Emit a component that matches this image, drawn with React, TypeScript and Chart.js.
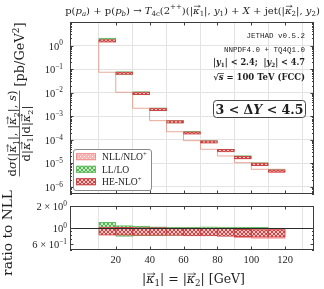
import React, { useEffect, useRef } from "react";
import { Chart, registerables } from "chart.js";

Chart.register(...registerables);

// ---------------- data ----------------
const binLow = [10, 20, 30, 40, 50, 60, 70, 80, 90, 100, 110];
const binHigh = [20, 30, 40, 50, 60, 70, 80, 90, 100, 110, 120];
// NLL/NLO+ central cross section [pb/GeV^2]
const nllCentral = [1.73, 0.0736, 0.0104, 2.18e-3, 6.5e-4, 2.2e-4, 9.2e-5, 3.95e-5, 2.06e-5, 1.07e-5, 5.6e-6];
// uncertainty bands, as ratio to NLL central
const nllRatioLo = [0.8, 0.8, 0.8, 0.8, 0.8, 0.79, 0.79, 0.78, 0.73, 0.72, 0.72];
const nllRatioHi = [1.0, 1.0, 1.0, 1.0, 1.0, 1.0, 1.0, 1.0, 0.98, 0.98, 0.97];
const llRatioLo = [0.82, 0.77, 0.78, 0.78, 0.79, 0.8, 0.81, 0.81, 0.81, 0.81, 0.82];
const llRatioHi = [1.2, 1.08, 1.06, 1.04, 1.03, 1.03, 1.04, 1.03, 1.03, 1.02, 1.0];
const heRatioLo = [0.8, 0.8, 0.79, 0.79, 0.79, 0.78, 0.78, 0.77, 0.76, 0.75, 0.75];
const heRatioHi = [1.03, 1.02, 1.01, 1.01, 1.0, 1.0, 0.99, 0.99, 0.96, 0.95, 0.95];

const xTicks = [20, 40, 60, 80, 100, 120];
const mainYExps = [-6, -5, -4, -3, -2, -1, 0];
const ratioYTicks = [0.6, 1, 2];
const ratioYMant = ["6 × ", "", "2 × "];
const ratioYExp = ["−1", "0", "0"];
const seriesLabels = ["NLL/NLO", "LL/LO", "HE-NLO"];
const seriesSup = ["+", "", "+"];

// ---------------- helpers ----------------
const FAM = '"DejaVu Serif", "Liberation Serif", serif';
const TICKFAM = '"Liberation Serif", "DejaVu Serif", serif';
const MONO = '"Liberation Mono", "DejaVu Sans Mono", monospace';
const TXT = "#1e1e1e";

type Seg = { t: string; k?: "sub" | "sup"; it?: boolean; b?: boolean; vec?: boolean; bar?: boolean };

function segFont(s: Seg, size: number, bold: boolean, fam: string) {
  const sz = s.k ? size * 0.7 : size;
  return `${s.it ? "italic " : ""}${s.b || bold ? "bold " : ""}${sz}px ${fam}`;
}
function richWidth(ctx: CanvasRenderingContext2D, segs: Seg[], size: number, bold = false, fam = FAM) {
  let w = 0;
  for (const s of segs) {
    ctx.font = segFont(s, size, bold, fam);
    w += ctx.measureText(s.t).width;
  }
  return w;
}
function fitSize(ctx: CanvasRenderingContext2D, segs: Seg[], target: number, bold = false, fam = FAM) {
  return (10 * target) / richWidth(ctx, segs, 10, bold, fam);
}
function drawRich(
  ctx: CanvasRenderingContext2D,
  segs: Seg[],
  x: number,
  y: number,
  size: number,
  align: "left" | "center" | "right",
  bold = false,
  fam = FAM,
  color = TXT
) {
  const w = richWidth(ctx, segs, size, bold, fam);
  let cx = align === "left" ? x : align === "center" ? x - w / 2 : x - w;
  ctx.textAlign = "left";
  ctx.textBaseline = "alphabetic";
  ctx.fillStyle = color;
  ctx.strokeStyle = color;
  for (const s of segs) {
    ctx.font = segFont(s, size, bold, fam);
    const dy = s.k === "sub" ? size * 0.22 : s.k === "sup" ? -size * 0.4 : 0;
    ctx.fillText(s.t, cx, y + dy);
    const sw = ctx.measureText(s.t).width;
    if (s.vec) {
      const ay = y - size * 0.72;
      ctx.lineWidth = 0.6;
      ctx.beginPath();
      ctx.moveTo(cx + 0.8, ay);
      ctx.lineTo(cx + sw + 0.6, ay);
      ctx.moveTo(cx + sw - size * 0.12, ay - size * 0.1);
      ctx.lineTo(cx + sw + 0.6, ay);
      ctx.lineTo(cx + sw - size * 0.12, ay + size * 0.1);
      ctx.stroke();
    }
    if (s.bar) {
      const ay = y - size * 0.7;
      ctx.lineWidth = 0.7;
      ctx.beginPath();
      ctx.moveTo(cx - 0.5, ay);
      ctx.lineTo(cx + sw + 0.5, ay);
      ctx.stroke();
    }
    cx += sw;
  }
  return w;
}

function mkPattern(bg: string, fg: string, cells: [number, number][], size: number) {
  const c = document.createElement("canvas");
  c.width = size;
  c.height = size;
  const g = c.getContext("2d")!;
  g.fillStyle = bg;
  g.fillRect(0, 0, size, size);
  g.fillStyle = fg;
  cells.forEach(([a, b]) => g.fillRect(a, b, 1, 1));
  return g.createPattern(c, "repeat")!;
}
const X4: [number, number][] = [
  [0, 0], [1, 1], [2, 2], [3, 3], [3, 0], [2, 1], [1, 2], [0, 3],
];

function drawFrame(chart: any, yMajor: number[], yMinor: number[]) {
  const { ctx, chartArea } = chart;
  const { left, right, top, bottom } = chartArea;
  const xs = chart.scales.x;
  const ys = chart.scales.y;
  ctx.save();
  ctx.strokeStyle = "#3c3c3c";
  ctx.lineWidth = 1;
  ctx.strokeRect(Math.round(left) + 0.5, Math.round(top) + 0.5, Math.round(right - left) - 1, Math.round(bottom - top) - 1);
  ctx.beginPath();
  for (const v of xTicks) {
    const px = Math.round(xs.getPixelForValue(v)) + 0.5;
    ctx.moveTo(px, top);
    ctx.lineTo(px, top + 3.5);
    ctx.moveTo(px, bottom);
    ctx.lineTo(px, bottom - 3.5);
  }
  for (const v of yMajor) {
    const py = Math.round(ys.getPixelForValue(v)) + 0.5;
    ctx.moveTo(left, py);
    ctx.lineTo(left + 3.5, py);
    ctx.moveTo(right, py);
    ctx.lineTo(right - 3.5, py);
  }
  for (const v of yMinor) {
    const py = Math.round(ys.getPixelForValue(v)) + 0.5;
    ctx.moveTo(left, py);
    ctx.lineTo(left + 2, py);
    ctx.moveTo(right, py);
    ctx.lineTo(right - 2, py);
  }
  ctx.stroke();
  ctx.restore();
}

export default function App() {
  const mainRef = useRef<HTMLCanvasElement>(null);
  const ratioRef = useRef<HTMLCanvasElement>(null);

  useEffect(() => {
    const pNLL = mkPattern("#f7b6b6", "#fdeeee", [[0, 0], [2, 2]], 4);
    const pLL = mkPattern("#c6eabf", "#56b356", X4, 4);
    const pHE = mkPattern("#f6c6c6", "#cf4444", X4, 4);
    const patterns = [pNLL, pLL, pHE];
    const borders = ["#f29090", "#66bd66", "#c94444"];

    const band = (central: number[], lo: number[], hi: number[]) =>
      binLow.map((b, i) => ({ x: (b + binHigh[i]) / 2, y: [central[i] * lo[i], central[i] * hi[i]] }));
    const ones = binLow.map(() => 1);

    const barDs = (data: any[], idx: number, order: number) => ({
      type: "bar" as const,
      data,
      backgroundColor: patterns[idx],
      borderColor: borders[idx],
      borderWidth: 1,
      borderSkipped: false,
      grouped: false,
      barPercentage: 1,
      categoryPercentage: 1,
      order,
    });

    const stepData = [
      ...binLow.map((b, i) => ({ x: b, y: nllCentral[i] })),
      { x: binHigh[binHigh.length - 1], y: nllCentral[nllCentral.length - 1] },
    ];

    const mainMinor: number[] = [];
    for (let e = -7; e <= 0; e++) for (let m = 2; m <= 9; m++) {
      const v = m * Math.pow(10, e);
      if (v >= 5e-7 && v <= 10) mainMinor.push(v);
    }

    const mainPlugin = {
      id: "mainDeco",
      afterDraw(chart: any) {
        const { ctx } = chart;
        const ys = chart.scales.y;
        drawFrame(chart, mainYExps.map((e) => Math.pow(10, e)), mainMinor);
        ctx.save();
        // y tick labels
        for (const e of mainYExps) {
          const py = ys.getPixelForValue(Math.pow(10, e));
          drawRich(ctx, [{ t: "10" }, { t: e === 0 ? "0" : "−" + -e, k: "sup" }], 63, py + 4, 10.5, "right", false, TICKFAM);
        }
        // title
        const title: Seg[] = [
          { t: "p(" }, { t: "p", it: true }, { t: "a", k: "sub", it: true }, { t: ") + p(" }, { t: "p", it: true },
          { t: "b", k: "sub", it: true }, { t: ") → " }, { t: "T", it: true }, { t: "4c", k: "sub" }, { t: "(2" },
          { t: "++", k: "sup" }, { t: ")(|" }, { t: "κ", it: true, vec: true }, { t: "1", k: "sub" }, { t: "|, " },
          { t: "y", it: true }, { t: "1", k: "sub" }, { t: ") + " }, { t: "X", it: true }, { t: " + jet(|" },
          { t: "κ", it: true, vec: true }, { t: "2", k: "sub" }, { t: "|, " }, { t: "y", it: true }, { t: "2", k: "sub" },
          { t: ")" },
        ];
        drawRich(ctx, title, 192.5, 13.5, fitSize(ctx, title, 255), "center");
        // annotations
        ctx.font = `7.5px ${MONO}`;
        ctx.fillStyle = TXT;
        ctx.textAlign = "right";
        ctx.textBaseline = "alphabetic";
        ctx.fillText("JETHAD v0.5.2", 305, 38);
        ctx.fillText("NNPDF4.0 + TQ4Q1.0", 305, 51.5);
        const rap: Seg[] = [
          { t: "|" }, { t: "y", it: true }, { t: "1", k: "sub" }, { t: "| < 2.4;  |" }, { t: "y", it: true },
          { t: "2", k: "sub" }, { t: "| < 4.7" },
        ];
        drawRich(ctx, rap, 305, 65, fitSize(ctx, rap, 92, true), "right", true);
        const rs: Seg[] = [{ t: "√" }, { t: "s", it: true, bar: true }, { t: " = 100 TeV (FCC)" }];
        drawRich(ctx, rs, 305, 79.5, fitSize(ctx, rs, 92, true), "right", true);
        // Delta Y box
        ctx.strokeStyle = "#444";
        ctx.lineWidth = 1;
        ctx.fillStyle = "#fff";
        ctx.beginPath();
        (ctx as any).roundRect(213.5, 100.5, 92, 17, 3);
        ctx.fill();
        ctx.stroke();
        const dy: Seg[] = [{ t: "3 < Δ" }, { t: "Y", it: true }, { t: " < 4.5" }];
        drawRich(ctx, dy, 259.5, 113.5, fitSize(ctx, dy, 88, true), "center", true);
        // legend
        ctx.fillStyle = "rgba(255,255,255,0.95)";
        ctx.strokeStyle = "#8a8a8a";
        ctx.beginPath();
        (ctx as any).roundRect(73.5, 149.5, 78, 41, 2.5);
        ctx.fill();
        ctx.stroke();
        const ly = [156.7, 169.3, 181.7];
        for (let i = 0; i < 3; i++) {
          ctx.fillStyle = patterns[i];
          ctx.fillRect(76, ly[i] - 3.5, 20, 7);
          ctx.strokeStyle = borders[i];
          ctx.strokeRect(76.5, ly[i] - 3, 19, 6);
          const segs: Seg[] = [{ t: seriesLabels[i] }];
          if (seriesSup[i]) segs.push({ t: seriesSup[i], k: "sup" });
          drawRich(ctx, segs, 102, ly[i] + 3.3, 9.6, "left", false, TICKFAM);
        }
        ctx.restore();
      },
    };

    const main = new Chart(mainRef.current!, {
      type: "bar",
      data: {
        datasets: [
          {
            type: "line",
            data: stepData,
            stepped: "after",
            borderColor: "rgba(226,140,120,0.75)",
            borderWidth: 1,
            pointRadius: 0,
            fill: false,
            order: 10,
          } as any,
          barDs(band(nllCentral, llRatioLo, llRatioHi), 1, 3),
          barDs(band(nllCentral, nllRatioLo, nllRatioHi), 0, 2),
          barDs(band(nllCentral, heRatioLo, heRatioHi), 2, 1),
        ],
      },
      options: {
        responsive: false,
        animation: false,
        devicePixelRatio: 1,
        layout: { padding: { left: 0, top: 22, right: 10, bottom: 95 } },
        plugins: { legend: { display: false }, tooltip: { enabled: false } },
        scales: {
          x: {
            type: "linear",
            min: 5,
            max: 125,
            afterBuildTicks: (s: any) => {
              s.ticks = xTicks.map((v) => ({ value: v }));
            },
            afterFit: (s: any) => {
              s.height = 0;
            },
            ticks: { display: false },
            grid: { color: "#e3e3e3", drawTicks: false },
            border: { display: false },
          },
          y: {
            type: "logarithmic",
            min: 5e-7,
            max: 10,
            afterBuildTicks: (s: any) => {
              s.ticks = mainYExps.map((e) => ({ value: Math.pow(10, e) }));
            },
            afterFit: (s: any) => {
              s.width = 70;
            },
            ticks: { display: false },
            grid: { color: "#e3e3e3", drawTicks: false },
            border: { display: false },
          },
        },
      } as any,
      plugins: [mainPlugin],
    });

    const ratioMinor = [0.5, 0.7, 0.8, 0.9];
    const ratioPlugin = {
      id: "ratioDeco",
      afterDatasetsDraw(chart: any) {
        const { ctx, chartArea } = chart;
        const py = Math.round(chart.scales.y.getPixelForValue(1)) + 0.5;
        ctx.save();
        ctx.strokeStyle = "#2a2a2a";
        ctx.lineWidth = 1;
        ctx.beginPath();
        ctx.moveTo(chartArea.left, py);
        ctx.lineTo(chartArea.right, py);
        ctx.stroke();
        ctx.restore();
      },
      afterDraw(chart: any) {
        const { ctx } = chart;
        const ys = chart.scales.y;
        drawFrame(chart, ratioYTicks, ratioMinor);
        ctx.save();
        ratioYTicks.forEach((v, i) => {
          const py = ys.getPixelForValue(v);
          const segs: Seg[] = [];
          if (ratioYMant[i]) segs.push({ t: ratioYMant[i] });
          segs.push({ t: "10" }, { t: ratioYExp[i], k: "sup" });
          drawRich(ctx, segs, 67, py + 4, 10.5, "right", false, TICKFAM);
        });
        // x title
        const xt: Seg[] = [
          { t: "|" }, { t: "κ", it: true, vec: true }, { t: "1", k: "sub" }, { t: "| = |" },
          { t: "κ", it: true, vec: true }, { t: "2", k: "sub" }, { t: "| [GeV]" },
        ];
        drawRich(ctx, xt, 193.5, 283, fitSize(ctx, xt, 103), "center");
        // y titles (rotated)
        const rot = (x: number, y: number, f: () => void) => {
          ctx.save();
          ctx.translate(x, y);
          ctx.rotate(-Math.PI / 2);
          f();
          ctx.restore();
        };
        const rt: Seg[] = [{ t: "ratio to NLL" }];
        rot(12, 233, () => drawRich(ctx, rt, 0, 0, fitSize(ctx, rt, 86), "center"));
        const num: Seg[] = [
          { t: "d" }, { t: "σ", it: true }, { t: "(|" }, { t: "κ", it: true, vec: true }, { t: "1", k: "sub" },
          { t: "|, |" }, { t: "κ", it: true, vec: true }, { t: "2", k: "sub" }, { t: "|, " }, { t: "s", it: true },
          { t: ")" },
        ];
        const den: Seg[] = [
          { t: "d|" }, { t: "κ", it: true, vec: true }, { t: "1", k: "sub" }, { t: "|d|" },
          { t: "κ", it: true, vec: true }, { t: "2", k: "sub" }, { t: "|" },
        ];
        rot(0, 133.5, () => {
          const fs = fitSize(ctx, num, 86);
          const w = richWidth(ctx, num, fs);
          drawRich(ctx, num, 0, 16, fs, "center");
          ctx.strokeStyle = TXT;
          ctx.lineWidth = 0.7;
          ctx.beginPath();
          ctx.moveTo(-w / 2, 19.5);
          ctx.lineTo(w / 2, 19.5);
          ctx.stroke();
          drawRich(ctx, den, 0, 21.5 + fs * 0.74, fs, "center");
        });
        const pb: Seg[] = [{ t: "[pb/GeV" }, { t: "2", k: "sup" }, { t: "]" }];
        rot(0, 54.5, () => drawRich(ctx, pb, 0, 24, fitSize(ctx, pb, 64), "center"));
        ctx.restore();
      },
    };

    const ratio = new Chart(ratioRef.current!, {
      type: "bar",
      data: {
        datasets: [
          barDs(band(ones, llRatioLo, llRatioHi), 1, 3),
          barDs(band(ones, nllRatioLo, nllRatioHi), 0, 2),
          barDs(band(ones, heRatioLo, heRatioHi), 2, 1),
        ],
      },
      options: {
        responsive: false,
        animation: false,
        devicePixelRatio: 1,
        layout: { padding: { left: 0, top: 206, right: 10, bottom: 0 } },
        plugins: { legend: { display: false }, tooltip: { enabled: false } },
        scales: {
          x: {
            type: "linear",
            min: 5,
            max: 125,
            afterBuildTicks: (s: any) => {
              s.ticks = xTicks.map((v) => ({ value: v }));
            },
            afterFit: (s: any) => {
              s.height = 39;
            },
            ticks: {
              color: TXT,
              padding: 4,
              maxRotation: 0,
              font: { family: TICKFAM, size: 10.5 },
            },
            grid: { color: "#e3e3e3", drawTicks: false },
            border: { display: false },
          },
          y: {
            type: "logarithmic",
            min: 0.5,
            max: 2,
            afterBuildTicks: (s: any) => {
              s.ticks = ratioYTicks.map((v) => ({ value: v }));
            },
            afterFit: (s: any) => {
              s.width = 70;
            },
            ticks: { display: false },
            grid: { display: false },
            border: { display: false },
          },
        },
      } as any,
      plugins: [ratioPlugin],
    });

    return () => {
      main.destroy();
      ratio.destroy();
    };
  }, []);

  return (
    <div style={{ position: "fixed", left: 0, top: 0, width: 324, height: 289, background: "#fff" }}>
      <canvas ref={mainRef} width={324} height={289} style={{ position: "absolute", left: 0, top: 0 }} />
      <canvas ref={ratioRef} width={324} height={289} style={{ position: "absolute", left: 0, top: 0 }} />
    </div>
  );
}
